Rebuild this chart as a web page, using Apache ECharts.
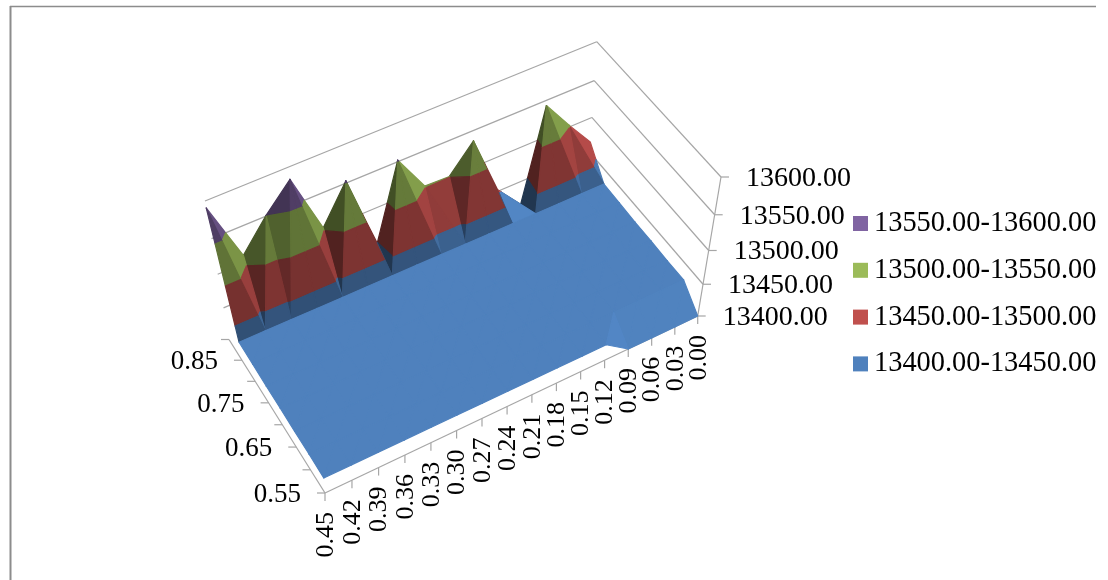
<!DOCTYPE html>
<html>
<head>
<meta charset="utf-8">
<style>html,body{margin:0;padding:0;background:#fff}#chart{width:1108px;height:580px}</style>
<script src="https://cdn.jsdelivr.net/npm/echarts@6/dist/echarts.min.js"></script>
</head>
<body>
<div id="chart"></div>
<script>
// Tick labels
const categories = ['0.45','0.42','0.39','0.36','0.33','0.30','0.27','0.24','0.21','0.18','0.15','0.12','0.09','0.06','0.03','0.00'];
const depthTicks = ['0.55','','0.65','','0.75','','0.85',''];
const heightTicks = [13400, 13450, 13500, 13550, 13600];
const bandNames = ['13550.00-13600.00','13500.00-13550.00','13450.00-13500.00','13400.00-13450.00'];
const bandColors = ['#8064A2','#9BBB59','#C0504D','#4F81BD'];

// Surface heights, one list per depth value, front to back
const row055 = [13425,13425,13425,13425,13425,13425,13425,13425,13425,13425,13425,13425,13400,13400,13400,13400];
const row060 = [13426,13426,13426,13426,13426,13426,13426,13426,13426,13426,13426,13426,13426,13426,13426,13426];
const row065 = [13426,13426,13426,13426,13426,13426,13426,13426,13426,13426,13426,13426,13426,13426,13426,13426];
const row070 = [13427,13427,13427,13427,13427,13427,13427,13427,13427,13427,13427,13427,13427,13427,13427,13427];
const row075 = [13427,13427,13427,13427,13427,13427,13427,13427,13427,13427,13427,13427,13427,13427,13427,13427];
const row080 = [13428,13428,13428,13428,13428,13428,13428,13428,13428,13428,13428,13428,13428,13428,13428,13428];
const row085 = [13429,13429,13429,13429,13429,13429,13429,13429,13429,13429,13429,13429,13429,13429,13429,13429];
const row090 = [13591,13511,13551,13584,13503,13553,13449,13552,13502,13501,13536,13452,13415,13543,13503,13465];
const surface = [row055,row060,row065,row070,row075,row080,row085,row090];

// Perspective box: screen corners of the floor and of the 13600 plane
const floorQuad = {a:[325,493], b:[697.7,316], c:[229,339.5], d:[587.5,185]};
const roofQuad  = {a:[314,359], b:[721,177],   c:[205,201],   d:[596.7,41.7]};
const nadir = [465,1704];
const zMin = 13400, zMax = 13600;

function makeHomography(q) {
  // Weights for the projective map of the unit square onto the quad
  const bx=q.b[0]-q.d[0], by=q.b[1]-q.d[1], cx=q.c[0]-q.d[0], cy=q.c[1]-q.d[1], ax=q.a[0]-q.d[0], ay=q.a[1]-q.d[1];
  const det = bx*cy-cx*by;
  const wb = (ax*cy-cx*ay)/det, wc = (bx*ay-ax*by)/det;
  return (u,v) => {
    const den = 1+u*(wb-1)+v*(wc-1);
    return [
      (q.a[0]+u*(wb*q.b[0]-q.a[0])+v*(wc*q.c[0]-q.a[0]))/den,
      (q.a[1]+u*(wb*q.b[1]-q.a[1])+v*(wc*q.c[1]-q.a[1]))/den
    ];
  };
}
const floorMap = makeHomography(floorQuad), roofMap = makeHomography(roofQuad);

function project(u,v,z) {
  const w = (z-zMin)/(zMax-zMin);
  const t = w*(0.885+0.115*w);
  const p0 = floorMap(u,v), p1 = roofMap(u,v);
  return [p0[0]+(p1[0]-p0[0])*t, p0[1]+(p1[1]-p0[1])*t];
}

// Triangulate every cell; the fold always runs through the cell's highest corner
const nCols = categories.length, nRows = surface.length;
const vert = (c,r) => ({u:c/(nCols-1), v:r/(nRows-1), z:surface[r][c]});
const triangles = [];
for (let r=nRows-2; r>=0; r--) {
  const cols = [];
  for (let c=0; c<nCols-1; c++) {
    const g = floorMap((c+0.5)/(nCols-1), (r+0.5)/(nRows-1));
    cols.push({c, dist:Math.hypot(g[0]-nadir[0], g[1]-nadir[1])});
  }
  cols.sort((p,q)=>q.dist-p.dist);
  cols.forEach(({c})=>{
    const fl=vert(c,r), fr=vert(c+1,r), bl=vert(c,r+1), br=vert(c+1,r+1);
    if (Math.max(bl.z,fr.z) > Math.max(fl.z,br.z)) {
      triangles.push([bl,br,fr]);
      triangles.push([fl,fr,bl]);
    } else {
      triangles.push([fl,br,bl]);
      triangles.push([fl,fr,br]);
    }
  });
}

function faceShade(t) {
  const sx=375, sy=180, sz=250;
  const P = t.map(p=>[p.u*sx, p.v*sy, (p.z-zMin)/(zMax-zMin)*sz]);
  const e1=[P[1][0]-P[0][0],P[1][1]-P[0][1],P[1][2]-P[0][2]];
  const e2=[P[2][0]-P[0][0],P[2][1]-P[0][1],P[2][2]-P[0][2]];
  let n=[e1[1]*e2[2]-e1[2]*e2[1], e1[2]*e2[0]-e1[0]*e2[2], e1[0]*e2[1]-e1[1]*e2[0]];
  const len=Math.hypot(n[0],n[1],n[2])||1;
  n=n.map(a=>a/len);
  if (n[2]<0) n=n.map(a=>-a);
  if (n[2]>0.97) return 1;
  return Math.max(0.42, -0.08+0.42*n[0]-0.57*n[1]+1.04*n[2]);
}

function clipBand(t, lo, hi) {
  const clip = (poly, keep, level) => {
    const out=[];
    poly.forEach((p,i)=>{
      const q=poly[(i+1)%poly.length];
      if (keep(p.z)) out.push(p);
      if (keep(p.z)!==keep(q.z)) {
        const f=(level-p.z)/(q.z-p.z);
        out.push({u:p.u+(q.u-p.u)*f, v:p.v+(q.v-p.v)*f, z:level});
      }
    });
    return out;
  };
  let poly=clip(t, z=>z>=lo, lo);
  if (poly.length) poly=clip(poly, z=>z<=hi, hi);
  return poly;
}

function shadeColor(hex, k) {
  const n=parseInt(hex.slice(1),16);
  const f=a=>Math.min(255,Math.round(a*k));
  return `rgb(${f(n>>16&255)},${f(n>>8&255)},${f(n&255)})`;
}

// One custom series per band; z2 keeps back-to-front order across all of them
const bandSeries = bandNames.map((name,b)=>{
  const hi=zMax-50*b, lo=hi-50;
  const items=[];
  triangles.forEach((t,i)=>{ if (clipBand(t,lo,hi).length>=3) items.push(i); });
  return {
    type:'custom', name, coordinateSystem:'cartesian2d',
    itemStyle:{color:bandColors[b]},
    data:items.map(i=>[i]),
    silent:true, clip:false,
    renderItem:(params,api)=>{
      const i=api.value(0), t=triangles[i];
      const poly=clipBand(t,lo,hi).map(p=>api.coord(project(p.u,p.v,p.z)));
      const col=shadeColor(bandColors[b],faceShade(t));
      return {type:'polygon', z2:10+i, shape:{points:poly}, style:{fill:col, stroke:col, lineWidth:1.2, lineJoin:'round'}};
    }
  };
});

// Axis lines, grid lines and tick labels
const lineColor='#a6a6a6', labelFont='"Liberation Serif", serif', labelColor='#000';
const segments=[], labels=[];
const addSeg=(p,q,c,w)=>segments.push({p,q,c:c||lineColor,w:w||1.2});

heightTicks.forEach((z,i)=>{
  const corner=project(1,1,z), right=project(1,0,z), left=project(0,1,z);
  if (i>0) { addSeg(left,corner); addSeg(corner,right); }
  addSeg(right,[right[0]+8,right[1]]);
  labels.push({text:z.toFixed(2), x:right[0]+25, y:right[1]+1.5, align:'left', rot:0, size:28});
});
addSeg(project(1,0,zMin),project(1,0,zMax));
addSeg(project(0,0,zMin),project(1,0,zMin));
addSeg(project(0,0,zMin),project(0,1,zMin));
categories.forEach((name,c)=>{
  const p=project(c/(nCols-1),0,zMin);
  addSeg(p,[p[0],p[1]+8]);
  labels.push({text:name, x:p[0]+1, y:p[1]+19, align:'right', rot:Math.PI/2, size:26});
});
depthTicks.forEach((name,k)=>{
  const p=project(0,k/(nRows-1),zMin);
  addSeg(p,[p[0]-8,p[1]]);
  if (name) labels.push({text:name, x:p[0]-24, y:p[1]+2, align:'right', rot:0, size:27});
});
// Chart frame
const frameColor='#8c8c8c';
segments.push({p:[10,6.5],q:[1096,6.5],c:frameColor,w:1.5});
segments.push({p:[10.5,6],q:[10.5,580],c:frameColor,w:2});

const frameSeries={
  type:'custom', coordinateSystem:'cartesian2d', silent:true, clip:false,
  data:segments.map((s,i)=>[i]),
  renderItem:(params,api)=>{
    const s=segments[api.value(0)], a=api.coord(s.p), b=api.coord(s.q);
    return {type:'line', z2:1, shape:{x1:a[0],y1:a[1],x2:b[0],y2:b[1]}, style:{stroke:s.c,lineWidth:s.w}};
  }
};
const labelSeries={
  type:'custom', coordinateSystem:'cartesian2d', silent:true, clip:false,
  data:labels.map((s,i)=>[i]),
  renderItem:(params,api)=>{
    const s=labels[api.value(0)], a=api.coord([s.x,s.y]);
    return {type:'text', z2:5, x:a[0], y:a[1], rotation:s.rot,
      style:{text:s.text, fill:labelColor, fontFamily:labelFont, fontSize:s.size, align:s.align, textAlign:s.align, verticalAlign:'middle', textVerticalAlign:'middle'}};
  }
};

const chart=echarts.init(document.getElementById('chart'),null,{renderer:'canvas'});
chart.setOption({
  animation:false,
  backgroundColor:'#fff',
  grid:{left:0,right:0,top:0,bottom:0},
  xAxis:{type:'value',min:0,max:1108,show:false},
  yAxis:{type:'value',min:0,max:580,inverse:true,show:false},
  legend:{
    orient:'vertical', left:853, top:209.5, padding:0, itemWidth:15, itemHeight:15, itemGap:18.8, icon:'rect',
    selectedMode:false, data:bandNames,
    textStyle:{fontFamily:labelFont, fontSize:28.4, lineHeight:28, color:labelColor, padding:[0,0,0,1]}
  },
  series:[frameSeries,labelSeries].concat(bandSeries)
});
</script>
</body>
</html>
